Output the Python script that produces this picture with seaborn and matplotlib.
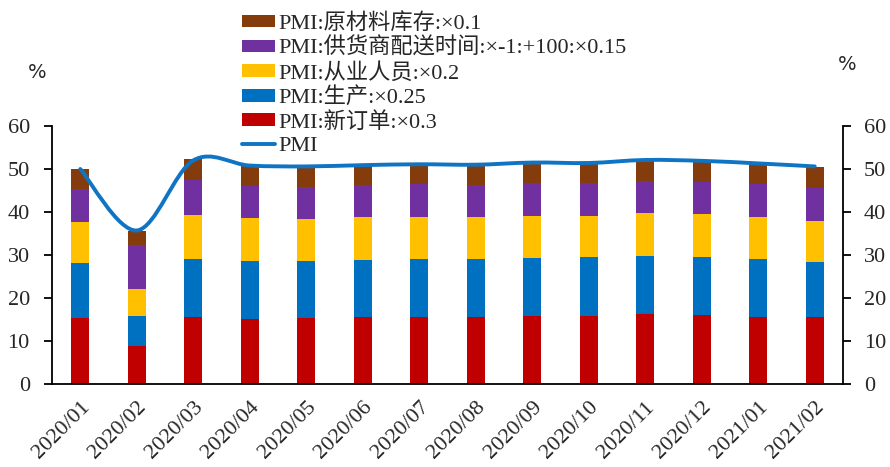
import matplotlib
matplotlib.use("Agg")
import matplotlib.pyplot as plt
import seaborn as sns
import numpy as np
from matplotlib.path import Path
from matplotlib.patches import PathPatch, Patch
from matplotlib.lines import Line2D

sns.set_theme(style="white")
plt.rcParams['font.family'] = ['Liberation Serif', 'Noto Sans CJK SC', 'DejaVu Sans']

months = ["2020/01", "2020/02", "2020/03", "2020/04", "2020/05", "2020/06", "2020/07",
          "2020/08", "2020/09", "2020/10", "2020/11", "2020/12", "2021/01", "2021/02"]
new_orders = [15.42, 8.79, 15.60, 15.06, 15.27, 15.48, 15.51, 15.60, 15.84, 15.87, 16.17, 16.02, 15.60, 15.48]
production = [12.83, 6.95, 13.53, 13.43, 13.30, 13.40, 13.55, 13.45, 13.55, 13.55, 13.63, 13.58, 13.40, 12.98]
employment = [9.50, 6.36, 10.18, 10.04, 9.88, 9.88, 9.84, 9.80, 9.72, 9.72, 9.94, 9.88, 9.76, 9.56]
supplier = [7.52, 10.19, 8.12, 7.49, 7.43, 7.43, 7.52, 7.49, 7.52, 7.49, 7.49, 7.41, 7.67, 7.64]
raw_inv = [4.71, 3.39, 4.90, 4.82, 4.73, 4.76, 4.79, 4.75, 4.85, 4.82, 4.86, 5.01, 4.87, 4.77]
pmi = [50.0, 35.7, 52.0, 50.8, 50.6, 50.9, 51.1, 51.0, 51.5, 51.4, 52.1, 51.9, 51.3, 50.6]

series = [
    ("PMI:新订单:×0.3", new_orders, "#C00000"),
    ("PMI:生产:×0.25", production, "#0070C0"),
    ("PMI:从业人员:×0.2", employment, "#FFC000"),
    ("PMI:供货商配送时间:×-1:+100:×0.15", supplier, "#7030A0"),
    ("PMI:原材料库存:×0.1", raw_inv, "#843C0C"),
]
line_color = "#0F74C4"
FS = 16

fig = plt.figure(figsize=(8.9, 4.67), dpi=100)
ax = fig.add_axes([52/890, 83/467, (843-52)/890, (384-126)/467])

bottom = np.zeros(len(months))
for label, vals, color in series:
    sns.barplot(x=months, y=vals, bottom=bottom, color=color, width=0.32,
                saturation=1, ax=ax, linewidth=0)
    bottom = bottom + np.array(vals)

# smoothed PMI line (Excel-style smoothing rendered as Bezier path in data coords)
xs = np.arange(len(pmi), dtype=float)
ys = np.array(pmi, dtype=float)
verts = [(xs[0], ys[0])]
codes = [Path.MOVETO]
n = len(xs)
for i in range(n - 1):
    p0 = np.array([xs[max(i-1, 0)], ys[max(i-1, 0)]])
    p1 = np.array([xs[i], ys[i]])
    p2 = np.array([xs[i+1], ys[i+1]])
    p3 = np.array([xs[min(i+2, n-1)], ys[min(i+2, n-1)]])
    c1 = p1 + (p2 - p0) / 6
    c2 = p2 - (p3 - p1) / 6
    verts += [tuple(c1), tuple(c2), tuple(p2)]
    codes += [Path.CURVE4] * 3
ax.add_patch(PathPatch(Path(verts, codes), facecolor="none", edgecolor=line_color,
                       lw=2.8, zorder=5, capstyle="round"))

ax.set_xlim(-0.5, len(months) - 0.5)
ax.set_ylim(0, 60)
ax.set_yticks(range(0, 61, 10))
ax.set_xticks(np.arange(-0.5, len(months), 1.0), minor=False)
ax.set_xticklabels([])
ax.set_xticks(np.arange(len(months)), minor=True)
ax.set_xticklabels(months, minor=True, rotation=45, ha="right", rotation_mode="anchor",
                   fontsize=FS)
ax.tick_params(axis="x", which="minor", length=0, pad=10)
ax.tick_params(axis="x", which="major", length=6, width=1.3, direction="out", color="black")
ax.tick_params(axis="y", length=6, width=1.3, direction="out", color="black", labelsize=FS, pad=10)
ax.set_xlabel("")
ax.set_ylabel("")

for s in ["top", "right"]:
    ax.spines[s].set_visible(False)
for s in ["left", "bottom"]:
    ax.spines[s].set_color("black")
    ax.spines[s].set_linewidth(1.3)

ax2 = ax.twinx()
ax2.set_ylim(0, 60)
ax2.set_yticks(range(0, 61, 10))
ax2.tick_params(axis="y", length=6, width=1.3, direction="out", color="black", labelsize=FS, pad=9)
for s in ["top", "left", "bottom"]:
    ax2.spines[s].set_visible(False)
ax2.spines["right"].set_color("black")
ax2.spines["right"].set_linewidth(1.3)
ax2.grid(False)
ax.grid(False)

fig.text(37/890, 1 - 72/467, "%", fontsize=14, ha="center", va="center", family=["DejaVu Sans"])
fig.text(847/890, 1 - 65/467, "%", fontsize=14, ha="center", va="center", family=["DejaVu Sans"])

handles = [Patch(facecolor=c, edgecolor="none") for _, _, c in reversed(series)]
labels = [l for l, _, _ in reversed(series)]
handles.append(Line2D([0], [0], color=line_color, lw=2.8))
labels.append("PMI")
fig.legend(handles, labels, loc="upper left", bbox_to_anchor=(242/890, 1 - 13/467),
           frameon=False, fontsize=FS, handlelength=1.5, handleheight=0.5,
           handletextpad=0.15, labelspacing=0.17, borderaxespad=0, borderpad=0)

fig.savefig("out.png", dpi=100, facecolor="white")
